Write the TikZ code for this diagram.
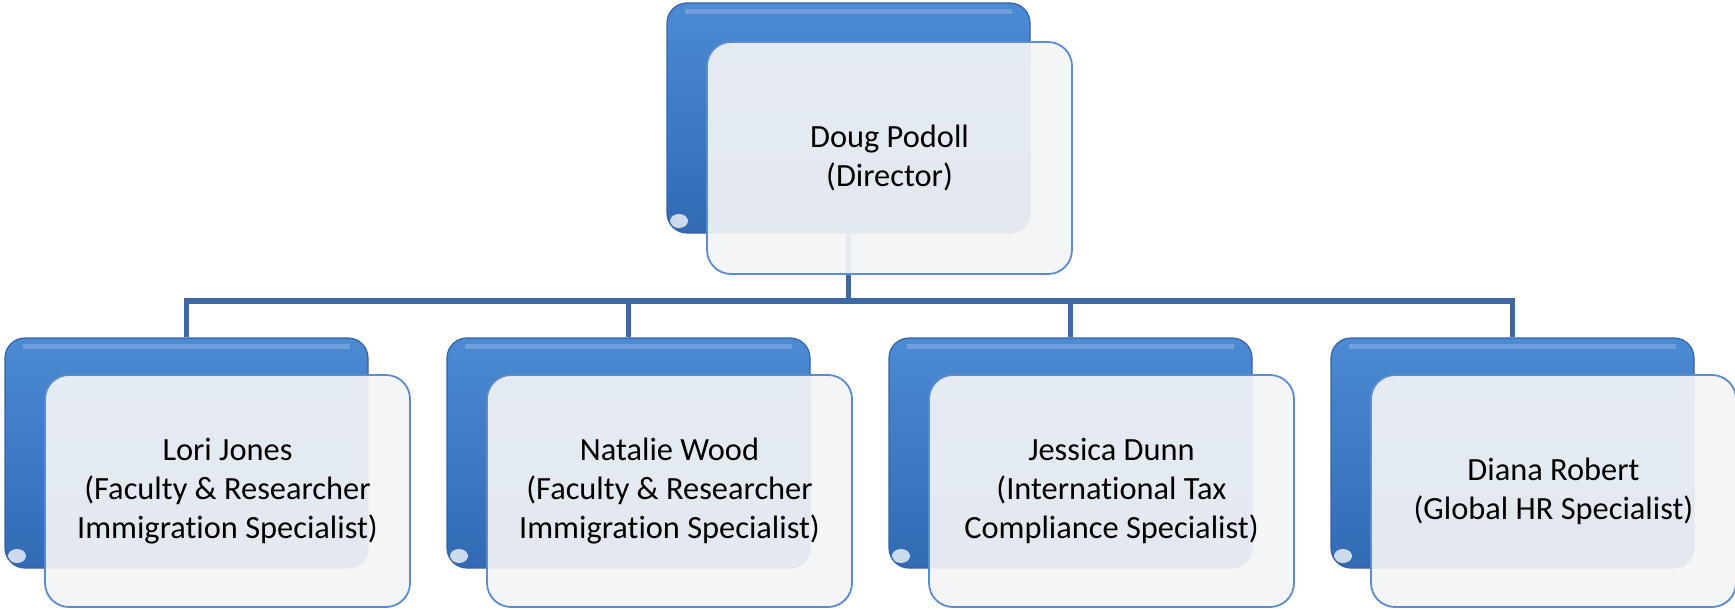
\documentclass[tikz,border=0pt]{standalone}
\usepackage{fontspec}
\setmainfont{Carlito}[Ligatures=NoCommon]
\usetikzlibrary{positioning,backgrounds}

\definecolor{backtop}{RGB}{76,138,212}
\definecolor{backmid}{RGB}{60,124,202}
\definecolor{backbottom}{RGB}{50,106,180}
\definecolor{backedge}{RGB}{52,98,164}
\definecolor{cardfill}{RGB}{243,244,246}
\definecolor{cardedge}{RGB}{92,140,204}
\definecolor{linkblue}{RGB}{62,104,162}

\begin{document}
\begin{tikzpicture}[x=0.5pt,y=-0.5pt,
    back/.style={rounded corners=10pt, inner sep=0pt,
      minimum width=181.5pt, minimum height=115pt,
      draw=backedge, line width=0.6pt,
      top color=backtop, middle color=backmid, bottom color=backbottom,
      path picture={
        \fill[white,opacity=.75] ([xshift=6pt,yshift=6pt]path picture bounding box.south west) ellipse (4.5pt and 3.5pt);
        \fill[white,opacity=.2,sharp corners] ([xshift=9pt,yshift=-3pt]path picture bounding box.north west) rectangle ([xshift=-9pt,yshift=-5.5pt]path picture bounding box.north east);
      }},
    card/.style={rounded corners=12pt, inner sep=0pt,
      minimum width=182.5pt, minimum height=116pt,
      draw=cardedge, line width=0.9pt,
      fill=cardfill, fill opacity=0.92, text opacity=1,
      align=center, font=\fontsize{16.2}{19.4}\selectfont},
    link/.style={draw=linkblue, line width=2.6pt}]
  \useasboundingbox (0,0) rectangle (1735,610);

  % director
  \node[back] (lead back) at (848.5,118) {};
  \node[card] (lead) at (889.5,158) {Doug Podoll\\(Director)};

  % staff row
  \coordinate (bus) at (0,301);
  \foreach \i/\who in {
      1/{Lori Jones\\(Faculty \& Researcher\\Immigration Specialist)},
      2/{Natalie Wood\\(Faculty \& Researcher\\Immigration Specialist)},
      3/{Jessica Dunn\\(International Tax\\Compliance Specialist)},
      4/{Diana Robert\\(Global HR Specialist)}} {
    \node[back] (staff\i back) at (186.5+442*\i-442,453) {};
    \node[card] (staff\i) at (227.5+442*\i-442,491) {\who};
  }

  % tree lines sit behind the boxes
  \begin{scope}[on background layer]
    \foreach \i in {1,...,4}
      \draw[link] (lead back.south) -- (lead back.south |- bus) -| (staff\i back.north);
  \end{scope}
\end{tikzpicture}
\end{document}
